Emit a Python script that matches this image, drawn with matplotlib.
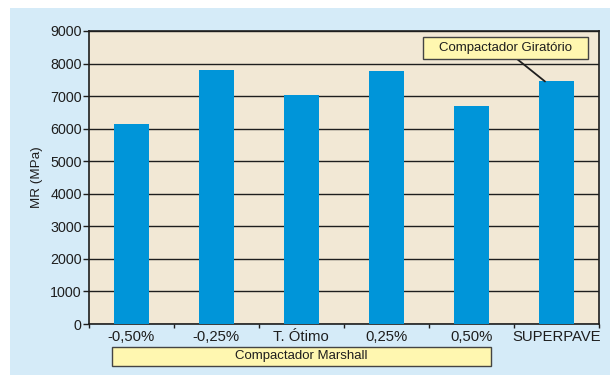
import matplotlib
matplotlib.use("Agg")
import matplotlib.pyplot as plt
from matplotlib.patches import Rectangle

plt.rcParams['font.family'] = ['Liberation Sans', 'DejaVu Sans']

categories = ['-0,50%', '-0,25%', 'T. Ótimo', '0,25%', '0,50%', 'SUPERPAVE']
mr_values = [6130, 7790, 7040, 7760, 6710, 7450]
y_ticks = [0, 1000, 2000, 3000, 4000, 5000, 6000, 7000, 8000, 9000]
marshall_label = 'Compactador Marshall'
gyratory_label = 'Compactador Giratório'
y_label = 'MR (MPa)'

panel_blue = '#d5ebf8'
plot_beige = '#f2e8d5'
bar_blue = '#0095d9'
box_yellow = '#fff7b0'
dark = '#1e1e1e'

fig = plt.figure(figsize=(6.1, 3.75), dpi=100, facecolor='white')
fig.patches.append(Rectangle((10 / 610, 0), 1 - 10 / 610, 1 - 8 / 375,
                             transform=fig.transFigure, facecolor=panel_blue,
                             edgecolor='none', zorder=-5))

ax = fig.add_axes([88.7 / 610, (375 - 324) / 375, 510.3 / 610, 293 / 375])
ax.set_zorder(1)
ax.set_facecolor(plot_beige)

x = list(range(len(categories)))
bar_w = 0.41
ax.bar(x, mr_values, width=bar_w, color=bar_blue, zorder=3)

ax.set_xlim(-0.5, len(categories) - 0.5)
ax.set_ylim(0, 9000)
ax.set_yticks(y_ticks)
ax.set_yticklabels([str(v) for v in y_ticks], fontsize=10.3, color=dark)
ax.set_xticks(x)
ax.set_xticklabels(categories, fontsize=10.7, color=dark)
ax.tick_params(axis='x', which='major', length=0, pad=4)
ax.set_xticks([i - 0.5 for i in range(len(categories) + 1)], minor=True)
ax.tick_params(axis='x', which='minor', length=3, width=1, color=dark, direction='out')
ax.tick_params(axis='y', length=4, width=1, color=dark, direction='out', pad=1)

ax.yaxis.grid(True, color=dark, linewidth=1.0, zorder=1)
ax.set_axisbelow(True)
for s in ax.spines.values():
    s.set_color(dark)
    s.set_linewidth(1.2)

fig.text(37 / 610, (375 - 177) / 375, y_label, rotation=90, ha='center',
         va='center', fontsize=9.7, color=dark)

# callout box for the gyratory compactor bar
gx0, gx1 = (423 - 88.7) / 510.3, (588 - 88.7) / 510.3
gy0, gy1 = (324 - 59) / 293, (324 - 37) / 293
ax.add_patch(Rectangle((gx0, gy0), gx1 - gx0, gy1 - gy0, transform=ax.transAxes,
                       facecolor=box_yellow, edgecolor='#444444', linewidth=1.0,
                       zorder=5, clip_on=False))
ax.text((gx0 + gx1) / 2, (gy0 + gy1) / 2, gyratory_label, transform=ax.transAxes,
        ha='center', va='center', fontsize=9.5, color=dark, zorder=6)
ax.annotate('', xy=(5 - bar_w / 2 + 0.07, mr_values[5]), xycoords='data',
            xytext=((517 - 88.7) / 510.3, gy0), textcoords='axes fraction',
            arrowprops=dict(arrowstyle='-', color=dark, lw=1.3,
                            shrinkA=0, shrinkB=0), zorder=4)

# group label under the Marshall categories
mx0, mx1 = 112 / 610, 491 / 610
my0, my1 = (375 - 366) / 375, (375 - 347) / 375
fig.patches.append(Rectangle((mx0, my0), mx1 - mx0, my1 - my0,
                             transform=fig.transFigure, facecolor=box_yellow,
                             edgecolor='#444444', linewidth=1.0, zorder=2))
fig.text((mx0 + mx1) / 2, (my0 + my1) / 2, marshall_label, ha='center',
         va='center', fontsize=9.5, color=dark)

fig.savefig('out.png', dpi=100, facecolor='white')
